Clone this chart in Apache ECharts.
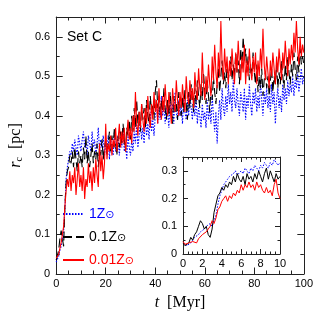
<!DOCTYPE html>
<html><head><meta charset="utf-8">
<script src="https://cdn.jsdelivr.net/npm/echarts@6/dist/echarts.min.js"></script>
<style>html,body{margin:0;padding:0;background:#fff}#c{width:316px;height:316px}</style>
</head><body><div id="c"></div>
<script>
// ---------------- data ----------------
const seriesNames = ['1Z', '0.1Z', '0.01Z'];
const seriesColors = ['#0000ff', '#000000', '#ff0000'];
const mainStep = 0.5;   // Myr between samples (t = 0 .. 100)
const insetStep = 0.2;  // Myr between samples (t = 0 .. 10)

const blueMain = [
0.03,0.035,0.045,0.06,0.07,0.09,0.11,0.16,0.24,0.27,
0.29,0.31,0.30,0.33,0.31,0.34,0.32,0.30,0.35,0.33,
0.31,0.34,0.36,0.32,0.33,0.30,0.35,0.33,0.31,0.36,
0.32,0.34,0.30,0.33,0.37,0.31,0.34,0.32,0.35,0.30,
0.33,0.31,0.35,0.29,0.34,0.32,0.30,0.36,0.31,0.33,
0.35,0.30,0.34,0.32,0.37,0.31,0.33,0.29,0.35,0.32,
0.30,0.34,0.31,0.36,0.33,0.38,0.32,0.35,0.39,0.34,
0.37,0.33,0.40,0.35,0.38,0.34,0.41,0.36,0.39,0.35,
0.40,0.44,0.38,0.42,0.39,0.45,0.40,0.43,0.38,0.42,
0.41,0.37,0.44,0.40,0.43,0.38,0.46,0.41,0.39,0.44,
0.40,0.43,0.38,0.45,0.41,0.39,0.44,0.40,0.46,0.42,
0.39,0.43,0.40,0.45,0.38,0.42,0.40,0.37,0.43,0.39,
0.41,0.37,0.44,0.39,0.42,0.38,0.45,0.40,0.36,0.41,
0.33,0.40,0.44,0.39,0.47,0.42,0.40,0.45,0.41,0.48,
0.43,0.46,0.41,0.49,0.44,0.42,0.47,0.43,0.40,0.46,
0.44,0.41,0.47,0.39,0.45,0.42,0.48,0.43,0.40,0.46,
0.43,0.47,0.41,0.45,0.42,0.49,0.44,0.40,0.46,0.43,
0.47,0.42,0.45,0.41,0.48,0.43,0.46,0.38,0.44,0.47,
0.42,0.45,0.41,0.48,0.44,0.47,0.43,0.49,0.45,0.48,
0.46,0.50,0.45,0.49,0.47,0.51,0.46,0.49,0.52,0.48,
0.50];

const blackMain = [
0.035,0.04,0.06,0.09,0.11,0.09,0.07,0.17,0.23,0.26,
0.27,0.30,0.28,0.31,0.27,0.32,0.29,0.26,0.31,0.28,
0.30,0.27,0.32,0.29,0.35,0.28,0.31,0.27,0.30,0.33,
0.28,0.31,0.29,0.33,0.27,0.32,0.30,0.34,0.29,0.32,
0.34,0.30,0.33,0.36,0.31,0.35,0.32,0.37,0.33,0.30,
0.35,0.32,0.36,0.33,0.38,0.34,0.31,0.37,0.35,0.39,
0.34,0.40,0.36,0.42,0.37,0.44,0.38,0.41,0.36,0.43,
0.39,0.42,0.37,0.44,0.40,0.38,0.45,0.41,0.43,0.39,
0.46,0.49,0.42,0.45,0.40,0.44,0.41,0.47,0.42,0.39,
0.44,0.40,0.46,0.42,0.38,0.45,0.41,0.43,0.39,0.46,
0.42,0.40,0.45,0.41,0.47,0.43,0.39,0.46,0.42,0.48,
0.44,0.41,0.47,0.43,0.49,0.45,0.42,0.48,0.44,0.51,
0.46,0.43,0.49,0.45,0.41,0.47,0.44,0.50,0.46,0.43,
0.48,0.52,0.46,0.50,0.54,0.48,0.51,0.47,0.53,0.49,
0.52,0.55,0.49,0.53,0.50,0.56,0.51,0.54,0.48,0.57,
0.52,0.60,0.54,0.57,0.51,0.55,0.49,0.53,0.50,0.56,
0.51,0.48,0.53,0.46,0.50,0.47,0.52,0.45,0.49,0.51,
0.47,0.50,0.45,0.49,0.52,0.46,0.50,0.48,0.53,0.47,
0.51,0.48,0.54,0.50,0.47,0.53,0.49,0.55,0.51,0.48,
0.53,0.50,0.56,0.52,0.49,0.55,0.51,0.57,0.53,0.55,
0.53];

const redMain = [
0.04,0.035,0.05,0.065,0.08,0.10,0.12,0.17,0.21,0.24,
0.22,0.26,0.21,0.25,0.23,0.27,0.20,0.24,0.28,0.22,
0.25,0.21,0.27,0.19,0.24,0.22,0.28,0.23,0.26,0.21,
0.27,0.23,0.29,0.25,0.22,0.33,0.26,0.30,0.24,0.28,
0.38,0.29,0.33,0.31,0.35,0.30,0.34,0.32,0.37,0.31,
0.34,0.38,0.32,0.36,0.33,0.37,0.31,0.35,0.39,0.34,
0.37,0.33,0.40,0.36,0.46,0.38,0.35,0.41,0.37,0.43,
0.39,0.36,0.42,0.38,0.45,0.40,0.37,0.43,0.39,0.46,
0.41,0.44,0.38,0.47,0.42,0.39,0.45,0.41,0.48,0.43,
0.40,0.46,0.42,0.38,0.47,0.43,0.41,0.49,0.44,0.40,
0.46,0.42,0.48,0.44,0.41,0.50,0.45,0.43,0.49,0.44,
0.47,0.42,0.51,0.46,0.44,0.52,0.47,0.45,0.56,0.48,
0.44,0.50,0.46,0.53,0.48,0.45,0.55,0.49,0.58,0.51,
0.47,0.56,0.50,0.64,0.53,0.49,0.57,0.51,0.55,0.48,
0.54,0.50,0.57,0.52,0.48,0.56,0.51,0.59,0.53,0.49,
0.55,0.51,0.58,0.48,0.54,0.50,0.57,0.52,0.49,0.55,
0.51,0.56,0.48,0.54,0.50,0.57,0.52,0.62,0.53,0.49,
0.55,0.51,0.47,0.54,0.50,0.56,0.52,0.48,0.55,0.51,
0.57,0.53,0.49,0.56,0.52,0.59,0.54,0.50,0.57,0.53,
0.58,0.54,0.61,0.56,0.64,0.57,0.53,0.60,0.55,0.58,
0.56];

const blueInset = [
0.04,0.035,0.03,0.035,0.04,0.05,0.06,0.065,0.07,0.08,
0.085,0.09,0.10,0.095,0.11,0.10,0.12,0.14,0.18,0.21,
0.23,0.25,0.26,0.27,0.28,0.28,0.29,0.30,0.285,0.29,
0.30,0.29,0.31,0.30,0.29,0.31,0.30,0.32,0.31,0.30,
0.32,0.31,0.33,0.32,0.31,0.33,0.32,0.34,0.33,0.32,
0.33];

const blackInset = [
0.04,0.03,0.035,0.04,0.06,0.05,0.07,0.08,0.10,0.12,
0.11,0.09,0.10,0.07,0.06,0.09,0.15,0.18,0.21,0.22,
0.24,0.23,0.25,0.24,0.26,0.25,0.28,0.26,0.29,0.27,
0.26,0.28,0.25,0.29,0.27,0.28,0.26,0.29,0.27,0.30,
0.28,0.26,0.29,0.31,0.27,0.30,0.28,0.26,0.29,0.27,
0.28];

const redInset = [
0.045,0.035,0.03,0.04,0.035,0.045,0.05,0.04,0.055,0.06,
0.07,0.075,0.08,0.09,0.10,0.12,0.11,0.13,0.16,0.17,
0.19,0.20,0.21,0.19,0.21,0.20,0.22,0.21,0.23,0.22,
0.25,0.23,0.25,0.24,0.26,0.24,0.25,0.23,0.26,0.24,
0.25,0.23,0.22,0.24,0.22,0.23,0.21,0.25,0.27,0.22,
0.20];

const mainXTicks = {min: 0, max: 100, interval: 20};
const mainYTicks = {min: 0, max: 0.65, interval: 0.1};
const insetXTicks = {min: 0, max: 10, interval: 2};
const insetYTicks = {min: 0, max: 0.35, interval: 0.1};

// ---------------- chart ----------------
const toPairs = (arr, step) => arr.map((v, i) => [+(i * step).toFixed(2), v]);
const AX = '#222';
const sans = 'Liberation Sans';
const serif = 'Liberation Serif';
const lineTypes = [[1.5, 1.5], [9, 4], 'solid'];

function xAxis(grid, pos, tk, showLabel, major, minor, extra) {
  return Object.assign({
    type: 'value', gridIndex: grid, position: pos,
    min: tk.min, max: tk.max, interval: tk.interval,
    axisLine: {show: true, onZero: false, lineStyle: {color: AX, width: 1}},
    axisTick: {show: true, inside: true, length: major, lineStyle: {color: AX}},
    minorTick: {show: true, splitNumber: 4, length: minor, lineStyle: {color: AX}},
    splitLine: {show: false}, minorSplitLine: {show: false},
    axisLabel: {show: showLabel, margin: 4, fontSize: 11, color: '#000', fontFamily: sans}
  }, extra || {});
}
function yAxis(grid, pos, tk, interval, showLabel, len, showLine, extra) {
  return Object.assign({
    type: 'value', gridIndex: grid, position: pos,
    min: tk.min, max: tk.max, interval: interval,
    axisLine: {show: showLine, onZero: false, lineStyle: {color: AX, width: 1}},
    axisTick: {show: true, inside: true, length: len, lineStyle: {color: AX}},
    splitLine: {show: false},
    axisLabel: {show: showLabel, margin: 6, fontSize: 11, color: '#000', fontFamily: sans,
      showMaxLabel: false,
      formatter: v => (Math.abs(v) < 1e-9 ? '0' : v.toFixed(1))}
  }, extra || {});
}

const mainData = [blueMain, blackMain, redMain];
const insetData = [blueInset, blackInset, redInset];

const series = [];
mainData.forEach((arr, i) => series.push({
  name: seriesNames[i], type: 'line', xAxisIndex: 0, yAxisIndex: 0,
  data: toPairs(arr, mainStep), symbol: 'none', showSymbol: false,
  lineStyle: {color: seriesColors[i], width: 1.1, type: lineTypes[i]},
  itemStyle: {color: seriesColors[i]}, z: 2 + i
}));
insetData.forEach((arr, i) => series.push({
  name: seriesNames[i], type: 'line', xAxisIndex: 2, yAxisIndex: 4,
  data: toPairs(arr, insetStep), symbol: 'none', showSymbol: false,
  lineStyle: {color: seriesColors[i], width: 1, type: i === 1 ? 'solid' : lineTypes[i]},
  itemStyle: {color: seriesColors[i]}, z: 2 + i
}));

const chart = echarts.init(document.getElementById('c'), null, {renderer: 'canvas', devicePixelRatio: 1});
chart.setOption({
  animation: false,
  backgroundColor: '#fff',
  title: {text: 'Set C', left: 67, top: 30, padding: 0,
    textStyle: {fontSize: 14, fontWeight: 'normal', fontFamily: sans, color: '#000'}},
  legend: {
    orient: 'vertical', left: 62, top: 207, padding: 0,
    itemWidth: 21, itemHeight: 12, itemGap: 9, selectedMode: false,
    itemStyle: {opacity: 0, borderWidth: 0},
    lineStyle: {width: 2},
    data: seriesNames.map((n, i) => ({name: n, textStyle: {color: seriesColors[i]}})),
    formatter: n => n + '{s|⊙}',
    textStyle: {fontFamily: sans, fontSize: 14,
      rich: {s: {fontSize: 11, verticalAlign: 'bottom', fontFamily: 'DejaVu Sans'}}}
  },
  grid: [
    {left: 46, top: 17, width: 260, height: 260, show: false},
    {left: 183, top: 157, width: 97, height: 97, show: true, backgroundColor: '#fff', borderWidth: 0}
  ],
  xAxis: [
    xAxis(0, 'bottom', mainXTicks, true, 6.5, 3.5, {
      name: '{i|t}  [Myr]', nameLocation: 'middle', nameGap: 21,
      nameTextStyle: {fontFamily: serif, fontSize: 16, color: '#000',
        rich: {i: {fontStyle: 'italic', fontFamily: serif, fontSize: 16}}}
    }),
    xAxis(0, 'top', mainXTicks, false, 6.5, 3.5),
    xAxis(1, 'bottom', insetXTicks, true, 5, 2.5),
    xAxis(1, 'top', insetXTicks, false, 5, 2.5)
  ],
  yAxis: [
    yAxis(0, 'left', mainYTicks, 0.1, true, 6.5, true, {
      name: '{i|r}{s|c}  [pc]', nameLocation: 'middle', nameGap: 25, nameRotate: 90,
      nameTextStyle: {fontFamily: serif, fontSize: 16, color: '#000',
        rich: {i: {fontStyle: 'italic', fontFamily: serif, fontSize: 16},
               s: {fontFamily: serif, fontSize: 10, verticalAlign: 'bottom'}}}
    }),
    yAxis(0, 'left', mainYTicks, 0.05, false, 3.5, false),
    yAxis(0, 'right', mainYTicks, 0.1, false, 6.5, true),
    yAxis(0, 'right', mainYTicks, 0.05, false, 3.5, false),
    yAxis(1, 'left', insetYTicks, 0.1, true, 5, true),
    yAxis(1, 'left', insetYTicks, 0.05, false, 2.5, false),
    yAxis(1, 'right', insetYTicks, 0.1, false, 5, true),
    yAxis(1, 'right', insetYTicks, 0.05, false, 2.5, false)
  ],
  series: series
});
</script>
</body></html>
